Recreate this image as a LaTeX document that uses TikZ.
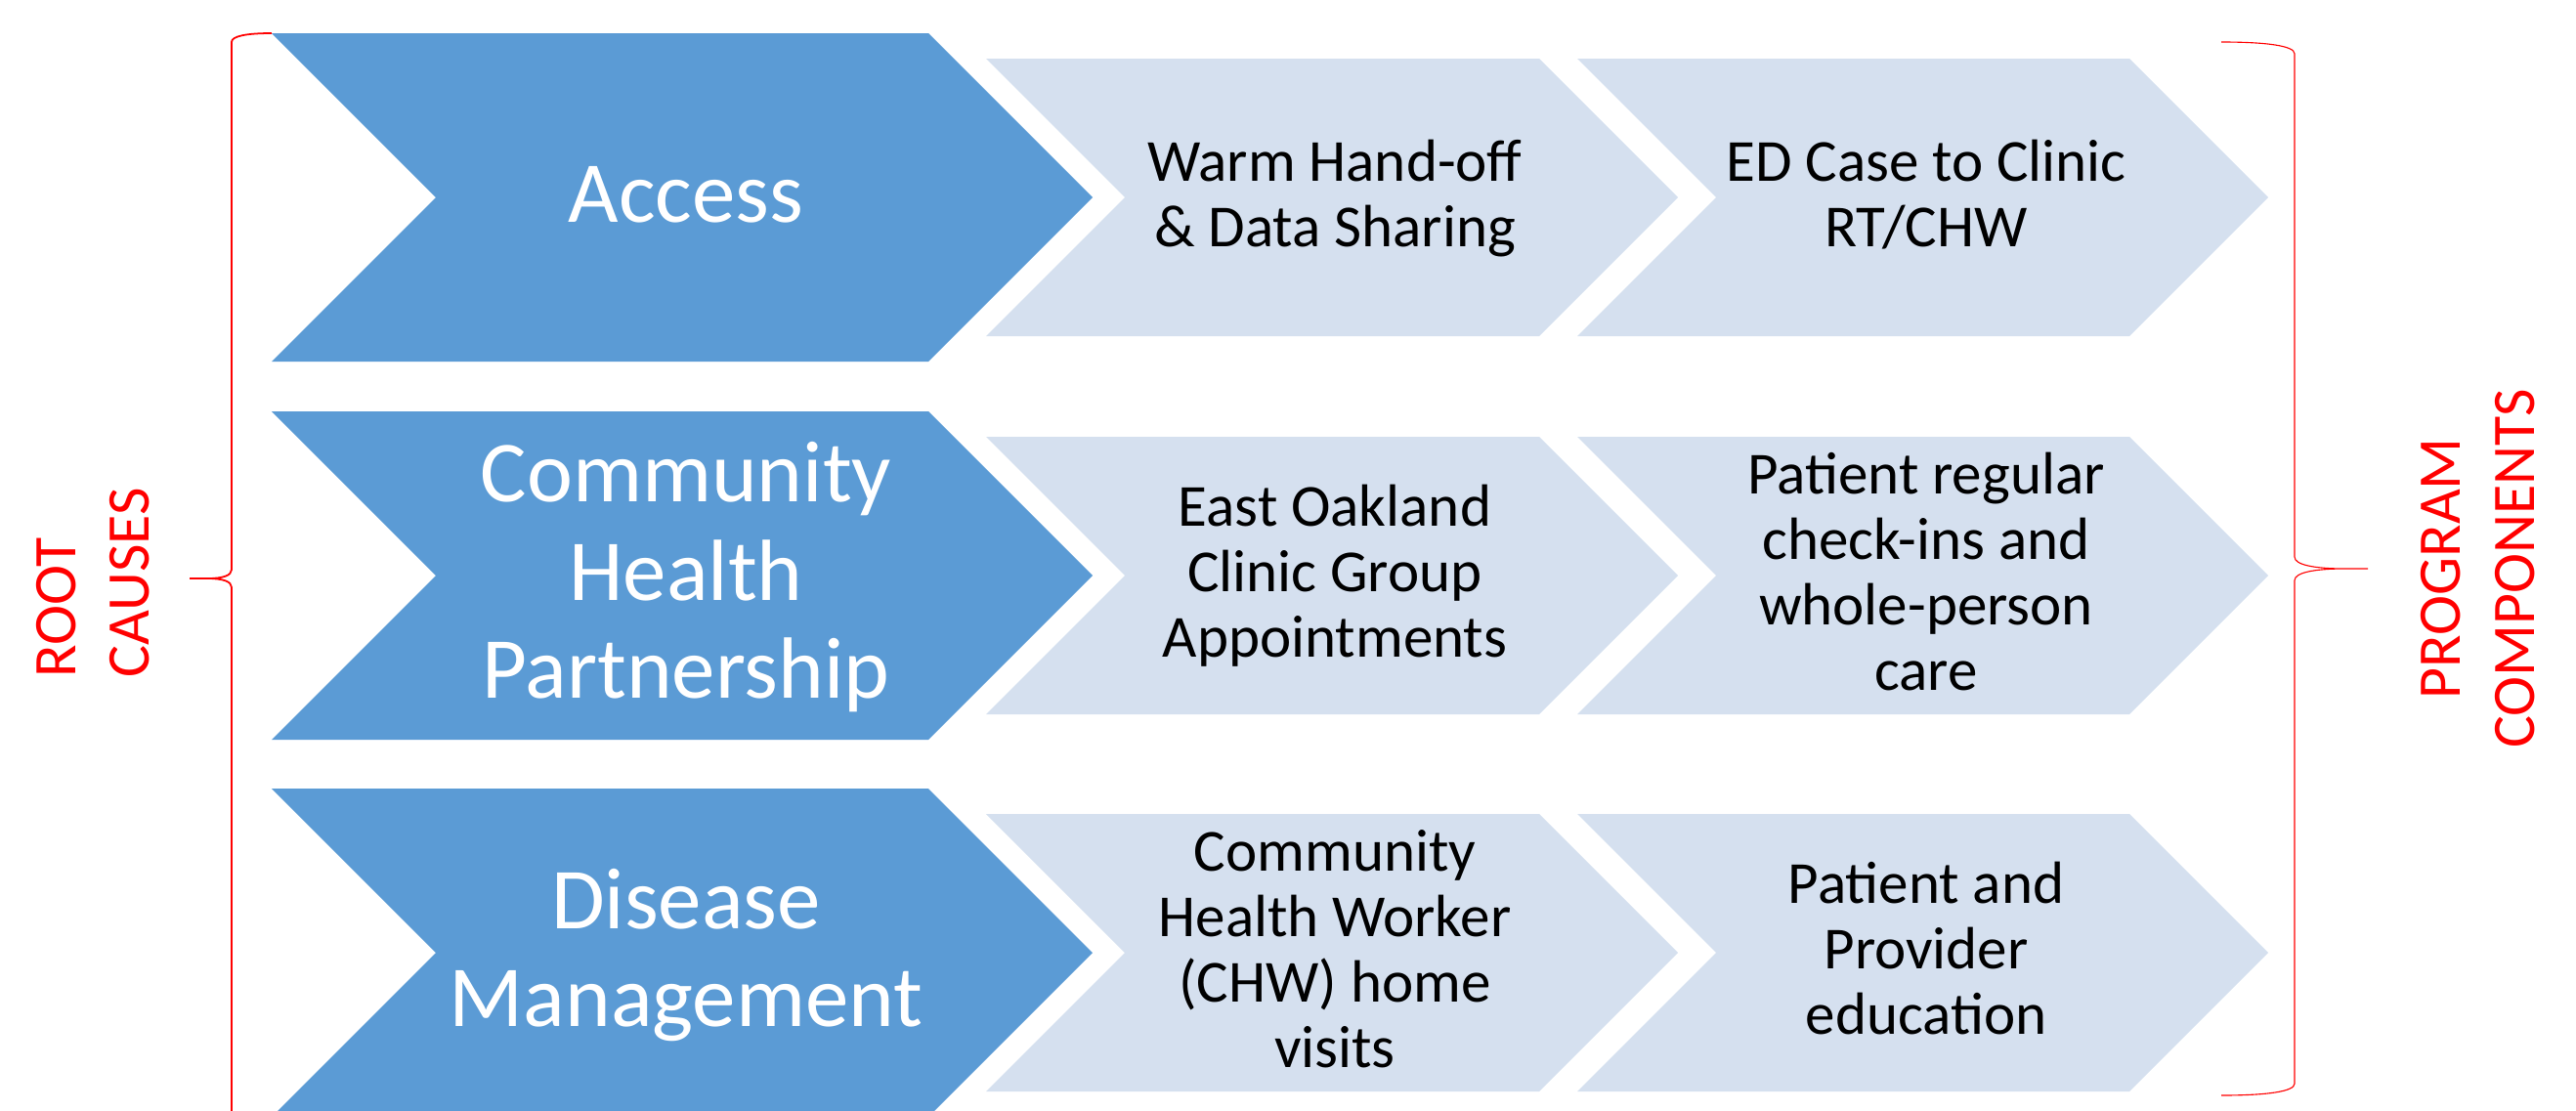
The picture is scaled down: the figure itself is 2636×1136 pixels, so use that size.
\documentclass[tikz,border=0pt]{standalone}
\usepackage{fontspec}
\setmainfont{Carlito}
\definecolor{chevblue}{RGB}{91,155,213}
\definecolor{chevlight}{RGB}{213,224,239}
\newcommand\chevronpath[5]{% left, centre y, half height, right end of body, style
  \fill[#5] (#1,{#2-#3}) -- (#4,{#2-#3}) -- ({#4+#3},#2) -- (#4,{#2+#3}) -- (#1,{#2+#3}) -- ({#1+#3},#2) -- cycle;}
\tikzset{
  bluechev/.style={fill=chevblue},
  lightchev/.style={fill=chevlight},
  bluetext/.style={text=white, align=center, inner sep=0pt,
    font=\fontsize{25.3pt}{28.45pt}\selectfont},
  lighttext/.style={text=black, align=center, inner sep=0pt,
    font=\fontsize{17.36pt}{19.06pt}\selectfont},
  redtext/.style={text=red, rotate=90, inner sep=0pt,
    font=\fontsize{17.6pt}{21.6pt}\selectfont},
  leftbrace/.style={draw=red, line width=0.5pt},
  rightbrace/.style={draw=red, line width=0.32pt}
}
\begin{document}
\begin{tikzpicture}[x=0.01cm, y=-0.01cm]
\useasboundingbox (0,0) rectangle (2636,1136);
\clip (0,0) rectangle (2636,1136);

% rows: centres 202, 589, 975
\foreach \c in {202,589,975}{
  \chevronpath{278}{\c}{168}{950}{bluechev}
  \chevronpath{1009}{\c}{142}{1575}{lightchev}
  \chevronpath{1614}{\c}{142}{2179}{lightchev}
}

% blue texts
\node[bluetext] (acc) at (702,207) {\strut Access\strut};
\node[bluetext] (chp) at (702,594) {\strut Community\\Health\\Partnership\strut};
\node[bluetext] (dm)  at (702,980) {\strut Disease\\Management\strut};

% light texts, column A
\node[lighttext] (warm) at (1366,205.5) {\strut Warm Hand-off\\\& Data Sharing\strut};
\node[lighttext] (eoak) at (1366,592.5) {\strut East Oakland\\Clinic Group\\Appointments\strut};
\node[lighttext] (chw)  at (1366,978.5) {\strut Community\\Health Worker\\(CHW) home\\visits\strut};

% light texts, column B
\node[lighttext] (edc)  at (1971,205.5) {\strut ED Case to Clinic\\RT/CHW\strut};
\node[lighttext] (preg) at (1971,592.5) {\strut Patient regular\\check-ins and\\whole-person\\care\strut};
\node[lighttext] (pedu) at (1971,978.5) {\strut Patient and\\Provider\\education\strut};

% left brace
\draw[leftbrace] (278,34) .. controls (252,34) and (237,37) .. (237,43)
  -- (237,583) .. controls (237,589) and (228,592) .. (212,592) -- (194,592)
  -- (212,592) .. controls (228,592) and (237,595) .. (237,601)
  -- (237,1141) .. controls (237,1147) and (252,1150) .. (278,1150);

% right brace
\draw[rightbrace] (2273,43) .. controls (2320,43) and (2348,47) .. (2348,55)
  -- (2348,570) .. controls (2348,578) and (2368,582) .. (2400,582) -- (2423,582)
  -- (2400,582) .. controls (2368,582) and (2348,586) .. (2348,594)
  -- (2348,1109) .. controls (2348,1117) and (2320,1121) .. (2273,1121);

% side labels
\node[redtext, align=left] (rootlbl) at (99.8,596.5) {\strut ROOT\\CAUSES\strut};
\node[redtext, align=center] (proglbl) at (2540.3,582) {\strut PROGRAM\\COMPONENTS\strut};
\end{tikzpicture}
\end{document}
